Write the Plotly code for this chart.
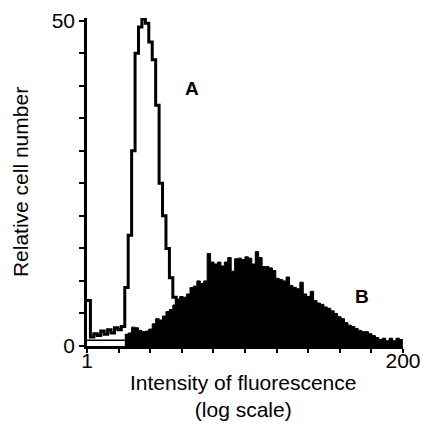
import plotly.graph_objects as go
import math

# Fluorescence intensity channels (log-spaced)
intensity = [1.000, 1.059, 1.122, 1.189, 1.259, 1.334, 1.413, 1.496, 1.585, 1.679,
             1.778, 1.884, 1.995, 2.113, 2.239, 2.371, 2.512, 2.661, 2.818, 2.985,
             3.162, 3.350, 3.548, 3.758, 3.981, 4.217, 4.467, 4.732, 5.012, 5.309,
             5.623, 5.957, 6.310, 6.683, 7.079, 7.499, 7.943, 8.414, 8.913, 9.441,
             10.00, 10.59, 11.22, 11.89, 12.59, 13.34, 14.13, 14.96, 15.85, 16.79,
             17.78, 18.84, 19.95, 21.13, 22.39, 23.71, 25.12, 26.61, 28.18, 29.85,
             31.62, 33.50, 35.48, 37.58, 39.81, 42.17, 44.67, 47.32, 50.12, 53.09,
             56.23, 59.57, 63.10, 66.83, 70.79, 74.99, 79.43, 84.14, 89.13, 94.41,
             100.0, 105.9, 112.2, 118.9, 125.9, 133.4, 141.3, 149.6, 158.5, 167.9,
             177.8, 188.4, 199.5]

# Histogram A (control), first 31 channels
count_a = [7.0, 1.4, 1.9, 1.6, 2.3, 1.8, 2.5, 2.0, 2.8, 2.5,
           3.0, 9.0, 17.0, 30.0, 45.0, 49.0, 50.3, 49.6, 46.7, 44.0,
           37.0, 25.0, 20.0, 15.0, 10.5, 7.5, 5.5, 4.0, 3.0, 2.5,
           2.0]

# Histogram B (stained)
count_b = [0.9, 0.9, 0.9, 0.9, 0.9, 0.9, 0.9, 0.9, 0.9, 0.9,
           0.9, 1.8, 2.0, 2.9, 2.8, 2.4, 2.2, 2.3, 2.6, 3.4,
           4.2, 4.0, 4.6, 5.3, 5.6, 6.3, 7.2, 7.6, 7.5, 8.0,
           9.0, 9.2, 10.0, 9.6, 10.0, 14.2, 12.9, 12.6, 12.9, 12.3,
           12.9, 13.6, 11.5, 13.4, 13.5, 13.3, 13.7, 13.5, 12.6, 14.5,
           13.6, 12.2, 12.2, 12.0, 11.6, 10.4, 10.2, 10.0, 10.6, 9.3,
           9.0, 8.8, 9.8, 8.0, 7.6, 8.4, 7.0, 6.6, 6.4, 6.0,
           5.8, 5.4, 5.0, 4.5, 4.2, 3.6, 3.2, 3.0, 2.7, 2.4,
           2.2, 2.2, 1.9, 1.6, 1.3, 1.0, 1.2, 0.8, 1.2, 0.8,
           1.2, 1.0, 1.0]
b_start = 11  # first channel with events in B

x_ticks = [1, 1.699, 2.885, 4.901, 8.325, 14.14, 24.02, 40.80, 69.31, 117.7, 200]
x_ticktext = ["1", "", "", "", "", "", "", "", "", "", "200"]
y_ticks = [0, 5, 10, 15, 20, 25, 30, 35, 40, 45, 50]
y_ticktext = ["0", "", "", "", "", "", "", "", "", "", "50"]

FONT = "Liberation Sans, Arial, Helvetica, sans-serif"

fig = go.Figure()
fig.add_trace(go.Scatter(x=intensity[:len(count_a)], y=count_a, mode="lines",
                         line=dict(color="black", width=3, shape="hv"),
                         showlegend=False, hoverinfo="skip"))
fig.add_trace(go.Scatter(x=intensity[:b_start + 1], y=count_b[:b_start] + [count_b[b_start - 1]],
                         mode="lines", line=dict(color="black", width=1.5, shape="hv"),
                         showlegend=False, hoverinfo="skip"))
fig.add_trace(go.Scatter(x=intensity[b_start:], y=count_b[b_start:], mode="lines",
                         line=dict(color="black", width=1, shape="hv"),
                         fill="tozeroy", fillcolor="black",
                         showlegend=False, hoverinfo="skip"))

fig.add_annotation(x=math.log10(5.8), y=39.6, text="<b>A</b>", showarrow=False,
                   font=dict(family=FONT, size=19, color="black"))
fig.add_annotation(x=math.log10(100.5), y=7.6, text="<b>B</b>", showarrow=False,
                   font=dict(family=FONT, size=19, color="black"))
# x-axis title (two lines)
fig.add_annotation(xref="paper", yref="paper", x=0.495, y=-0.151,
                   xanchor="center", yanchor="middle", showarrow=False,
                   text="Intensity of fluorescence<br>(log scale)",
                   font=dict(family=FONT, size=21, color="black"))

fig.update_layout(
    width=423, height=423,
    margin=dict(l=87, r=20, t=18, b=77),
    paper_bgcolor="white", plot_bgcolor="white",
    font=dict(family=FONT, size=21, color="black"),
    xaxis=dict(type="log", range=[0, math.log10(200)], automargin=False,
               tickvals=x_ticks, ticktext=x_ticktext,
               ticks="outside", ticklen=4, tickwidth=2, tickcolor="black",
               showline=True, linewidth=2.5, linecolor="black",
               showgrid=False, zeroline=False,
               tickfont=dict(size=21), ticklabelstandoff=-10),
    yaxis=dict(range=[0, 50.4], automargin=False,
               tickvals=y_ticks, ticktext=y_ticktext,
               ticks="outside", ticklen=5, tickwidth=2, tickcolor="black",
               showline=True, linewidth=2.5, linecolor="black",
               showgrid=False, zeroline=False,
               tickfont=dict(size=21),
               title=dict(text="Relative cell number", font=dict(size=21), standoff=18)),
)

fig.write_html("out.html", config={"displayModeBar": False},
               post_script="document.body.style.margin='0px';document.body.style.overflow='hidden';")
